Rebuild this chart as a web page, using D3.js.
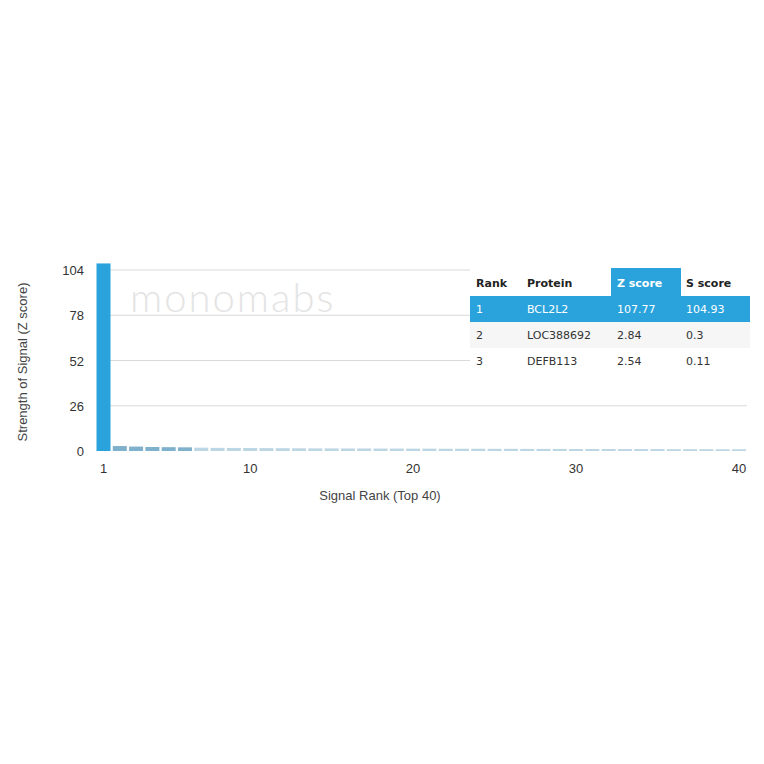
<!DOCTYPE html>
<html><head><meta charset="utf-8">
<script src="https://cdn.jsdelivr.net/npm/d3@7/dist/d3.min.js"></script>
<style>body{margin:0;background:#fff}</style>
</head><body>
<svg id="c" width="764" height="764"></svg>
<script>
const ranks = d3.range(1, 41);
const zScores = [107.77, 2.84, 2.54, 2.3, 2.2, 2.1, 1.9, 1.8, 1.75, 1.7, 1.65, 1.6, 1.55, 1.5, 1.5, 1.45, 1.45, 1.4, 1.4, 1.35, 1.35, 1.3, 1.3, 1.3, 1.25, 1.25, 1.2, 1.2, 1.2, 1.15, 1.15, 1.15, 1.1, 1.1, 1.1, 1.05, 1.05, 1.05, 1.0, 1.0];
const yTicks = [0, 26, 52, 78, 104];
const xTicks = [1, 10, 20, 30, 40];
const tableHeader = ["Rank", "Protein", "Z score", "S score"];
const tableRows = [
  ["1", "BCL2L2", "107.77", "104.93"],
  ["2", "LOC388692", "2.84", "0.3"],
  ["3", "DEFB113", "2.54", "0.11"]
];

const svg = d3.select("#c");
const blue = "#2aa3dc";
const x = d3.scaleLinear().domain([1, 40]).range([103.5, 739]);
const y = d3.scaleLinear().domain([0, 104]).range([451, 270]);
const bw = 14;

// gridlines
svg.append("g").selectAll("line").data(yTicks.filter(d => d > 0)).join("line")
  .attr("x1", 110).attr("x2", 747)
  .attr("y1", d => y(d)).attr("y2", d => y(d))
  .attr("stroke", "#d9d9d9").attr("stroke-width", 1);

// watermark
svg.append("text").attr("x", 130).attr("y", 312)
  .attr("font-family", "Lato, 'Open Sans', sans-serif").attr("font-size", 40).attr("font-weight", 300)
  .attr("fill", "#e4e4e4").attr("letter-spacing", 2).text("monomabs");

// bars
svg.append("g").selectAll("rect").data(zScores).join("rect")
  .attr("x", (d, i) => x(ranks[i]) - bw / 2)
  .attr("width", bw)
  .attr("y", d => y(d))
  .attr("height", d => y(0) - y(d))
  .attr("fill", (d, i) => i === 0 ? blue : (i < 6 ? "#7fb0cc" : "#bcd6e4"));

// y tick labels
svg.append("g").selectAll("text").data(yTicks).join("text")
  .attr("x", 84).attr("y", d => y(d) + 5)
  .attr("text-anchor", "end")
  .attr("font-family", "'Liberation Sans', Arial, sans-serif").attr("font-size", 13)
  .attr("fill", "#333").text(d => d);

// x tick labels
svg.append("g").selectAll("text").data(xTicks).join("text")
  .attr("x", d => x(d)).attr("y", 473)
  .attr("text-anchor", "middle")
  .attr("font-family", "'Liberation Sans', Arial, sans-serif").attr("font-size", 13)
  .attr("fill", "#333").text(d => d);

// axis titles
svg.append("text").attr("x", 380).attr("y", 500).attr("text-anchor", "middle")
  .attr("font-family", "'Liberation Sans', Arial, sans-serif").attr("font-size", 13)
  .attr("fill", "#444").text("Signal Rank (Top 40)");
svg.append("text").attr("transform", "translate(27,362) rotate(-90)").attr("text-anchor", "middle")
  .attr("font-family", "'Liberation Sans', Arial, sans-serif").attr("font-size", 13)
  .attr("fill", "#444").text("Strength of Signal (Z score)");

// table
const colX = [476, 527, 617, 686];
const tLeft = 470, tRight = 750;
const rowTop = [268, 296, 322, 348];
const tg = svg.append("g");
tg.append("rect").attr("x", tLeft).attr("y", 268).attr("width", tRight - tLeft).attr("height", 106).attr("fill", "#fff");
tg.append("rect").attr("x", 611).attr("y", 268).attr("width", 70).attr("height", 28).attr("fill", blue);
tg.append("rect").attr("x", tLeft).attr("y", 296).attr("width", tRight - tLeft).attr("height", 26).attr("fill", blue);
tg.append("rect").attr("x", tLeft).attr("y", 322).attr("width", tRight - tLeft).attr("height", 26).attr("fill", "#f6f6f6");
tg.selectAll("text.h").data(tableHeader).join("text").attr("class", "h")
  .attr("x", (d, i) => colX[i]).attr("y", 287)
  .attr("font-family", "'DejaVu Sans', sans-serif").attr("font-size", 11).attr("font-weight", "bold")
  .attr("fill", (d, i) => i === 2 ? "#fff" : "#222").text(d => d);
tableRows.forEach((row, r) => {
  tg.selectAll("text.r" + r).data(row).join("text").attr("class", "r" + r)
    .attr("x", (d, i) => colX[i]).attr("y", rowTop[r + 1] + 17)
    .attr("font-family", "'DejaVu Sans', sans-serif").attr("font-size", 11)
    .attr("fill", r === 0 ? "#fff" : "#333").text(d => d);
});
</script>
</body></html>
